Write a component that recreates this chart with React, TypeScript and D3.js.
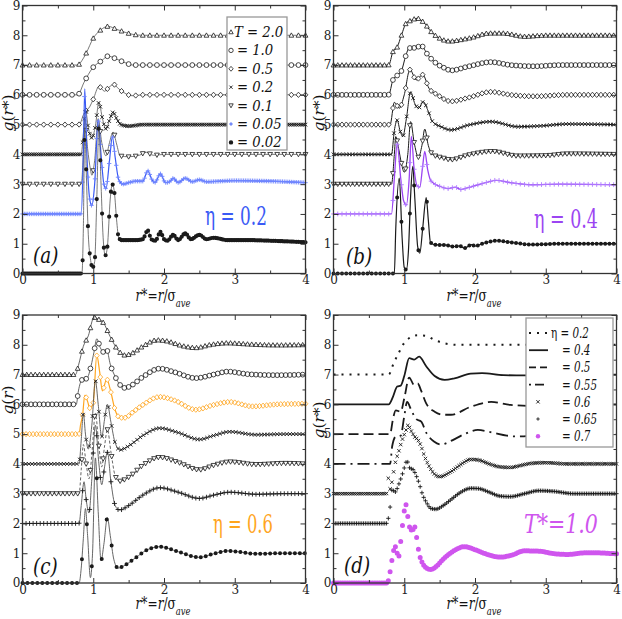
import { useRef, useEffect } from "react";
import * as d3 from "d3";

type Pt = [number, number];

const W = 622;
const H = 619;
const FONT = "DejaVu Serif";

const xTicks = [0, 1, 2, 3, 4];
const xMinor = [0.5, 1.5, 2.5, 3.5];
const yTicks = [0, 1, 2, 3, 4, 5, 6, 7, 8, 9];
const yMinor = [0.5, 1.5, 2.5, 3.5, 4.5, 5.5, 6.5, 7.5, 8.5];

// (a) eta = 0.2, curves shifted by 7,6,5,4,3,2,0
const a_T20: Pt[] = [[0, 7], [0.78, 7], [0.84, 7.15], [0.9, 7.4], [1.0, 7.9], [1.1, 8.17], [1.21, 8.3], [1.33, 8.2], [1.45, 8.1], [1.56, 8.03], [1.7, 8.0], [4, 8]];
const a_T10: Pt[] = [[0, 6], [0.78, 6], [0.87, 6.42], [0.99, 6.9], [1.12, 7.15], [1.21, 7.3], [1.33, 7.2], [1.45, 7.08], [1.56, 7.0], [4, 7]];
const a_T05: Pt[] = [[0, 5], [0.8, 5], [0.87, 5.38], [0.95, 5.6], [1.0, 5.85], [1.08, 6.28], [1.16, 6.12], [1.22, 6.25], [1.29, 6.35], [1.36, 6.2], [1.45, 6.05], [1.55, 5.97], [1.7, 6.0], [4, 6]];
const a_T02: Pt[] = [[0, 4], [0.83, 4], [0.86, 4.7], [0.89, 5.5], [0.93, 4.9], [0.98, 4.55], [1.03, 4.95], [1.08, 5.75], [1.13, 5.2], [1.18, 4.85], [1.23, 5.15], [1.28, 5.42], [1.33, 5.2], [1.39, 5.0], [1.5, 4.95], [1.7, 5.0], [4, 5]];
const a_T01: Pt[] = [[0, 3], [0.83, 3], [0.86, 4.0], [0.88, 5.2], [0.92, 4.2], [0.96, 3.5], [0.98, 3.3], [1.02, 3.8], [1.07, 5.2], [1.12, 4.4], [1.18, 3.95], [1.23, 4.4], [1.28, 4.75], [1.33, 4.35], [1.38, 3.95], [1.5, 3.92], [1.65, 3.97], [1.75, 4.07], [1.85, 3.97], [2.0, 4.0], [4, 4]];
const a_T005: Pt[] = [[0, 2], [0.83, 2], [0.86, 4.0], [0.88, 6.2], [0.91, 4.0], [0.95, 2.5], [0.98, 2.28], [1.02, 3.0], [1.07, 5.15], [1.11, 4.0], [1.15, 3.0], [1.18, 2.85], [1.23, 3.8], [1.27, 4.6], [1.31, 3.9], [1.36, 3.15], [1.42, 3.0], [1.5, 3.05], [1.6, 3.1], [1.7, 3.1], [1.77, 3.45], [1.83, 3.15], [1.87, 3.05], [1.95, 3.35], [2.02, 3.05], [2.08, 3.08], [2.13, 3.2], [2.2, 3.05], [2.3, 3.2], [2.4, 3.08], [2.5, 3.15], [2.6, 3.08], [2.8, 3.1], [3.0, 3.12], [3.5, 3.1], [4, 3.05]];
const a_T002: Pt[] = [[0, 0], [0.84, 0], [0.86, 1.5], [0.88, 4.9], [0.9, 3.5], [0.93, 1.3], [0.96, 0.5], [0.99, 0.2], [1.02, 0.4], [1.05, 2.5], [1.08, 5.0], [1.11, 3.0], [1.14, 1.2], [1.17, 0.6], [1.2, 0.9], [1.24, 2.5], [1.27, 3.0], [1.3, 2.7], [1.33, 1.8], [1.36, 1.2], [1.4, 1.12], [1.5, 1.12], [1.6, 1.12], [1.7, 1.15], [1.77, 1.45], [1.82, 1.15], [1.88, 1.1], [1.95, 1.4], [2.0, 1.15], [2.05, 1.1], [2.13, 1.3], [2.2, 1.12], [2.3, 1.35], [2.38, 1.15], [2.5, 1.3], [2.6, 1.15], [2.7, 1.2], [2.9, 1.12], [3.2, 1.12], [3.5, 1.1], [4, 1.05]];

// (b) eta = 0.4
const b_T20: Pt[] = [[0, 7], [0.78, 7], [0.84, 7.45], [0.9, 7.6], [0.96, 8.0], [1.03, 8.42], [1.1, 8.5], [1.18, 8.57], [1.28, 8.42], [1.38, 8.12], [1.5, 7.9], [1.65, 7.8], [1.8, 7.85], [1.95, 7.92], [2.2, 8.07], [2.4, 8.07], [2.7, 7.96], [3.0, 8.0], [3.5, 8.0], [4, 8]];
const b_T10: Pt[] = [[0, 6], [0.78, 6], [0.84, 6.5], [0.9, 6.65], [0.96, 6.8], [1.02, 7.3], [1.07, 7.57], [1.16, 7.58], [1.24, 7.65], [1.33, 7.35], [1.45, 7.06], [1.57, 6.9], [1.66, 6.82], [1.9, 6.95], [2.23, 7.1], [2.5, 7.0], [2.85, 6.96], [3.2, 7.0], [4, 7]];
const b_T05: Pt[] = [[0, 5], [0.8, 5], [0.86, 5.75], [0.93, 5.55], [1.0, 6.0], [1.08, 6.85], [1.17, 6.5], [1.26, 6.68], [1.35, 6.22], [1.47, 6.0], [1.66, 5.78], [1.9, 5.9], [2.23, 6.1], [2.5, 6.0], [2.85, 5.95], [3.3, 6.0], [4, 6]];
const b_T02: Pt[] = [[0, 4], [0.82, 4], [0.86, 4.8], [0.9, 5.15], [0.94, 4.8], [0.98, 4.6], [1.03, 5.2], [1.09, 6.1], [1.15, 5.7], [1.2, 5.55], [1.27, 5.77], [1.33, 5.5], [1.4, 5.1], [1.52, 4.93], [1.66, 4.82], [1.9, 4.98], [2.23, 5.1], [2.6, 4.93], [2.95, 4.96], [3.3, 5.02], [4, 5]];
const b_T01: Pt[] = [[0, 3], [0.82, 3], [0.86, 4.0], [0.88, 4.6], [0.92, 4.2], [0.96, 3.7], [1.0, 3.4], [1.05, 4.0], [1.09, 5.1], [1.14, 4.4], [1.2, 3.9], [1.25, 4.3], [1.29, 4.85], [1.34, 4.3], [1.4, 4.0], [1.55, 3.88], [1.66, 3.82], [1.9, 3.98], [2.25, 4.1], [2.6, 3.95], [3.0, 3.96], [3.3, 4.02], [4, 4]];
const b_T005: Pt[] = [[0, 2], [0.82, 2], [0.86, 3.2], [0.9, 4.35], [0.95, 3.2], [0.99, 2.45], [1.03, 2.3], [1.07, 3.2], [1.1, 4.6], [1.14, 3.5], [1.18, 2.95], [1.22, 2.9], [1.26, 3.6], [1.29, 4.1], [1.33, 3.5], [1.38, 3.1], [1.5, 2.93], [1.62, 2.85], [1.72, 2.9], [1.8, 2.82], [1.9, 2.88], [2.0, 2.95], [2.15, 3.05], [2.3, 3.13], [2.5, 3.05], [2.8, 2.98], [3.2, 3.0], [4, 2.98]];
const b_T002: Pt[] = [[0, 0], [0.86, 0], [0.88, 1.5], [0.93, 3.2], [0.97, 1.2], [1.0, 0.2], [1.03, 0.12], [1.06, 0.8], [1.09, 2.6], [1.12, 3.6], [1.15, 2.5], [1.19, 0.9], [1.22, 0.68], [1.26, 1.5], [1.31, 2.55], [1.34, 1.8], [1.37, 1.05], [1.42, 0.97], [1.6, 0.95], [1.7, 0.9], [1.78, 0.93], [1.85, 0.85], [1.95, 0.97], [2.0, 0.92], [2.1, 1.0], [2.3, 1.1], [2.5, 1.05], [2.8, 0.97], [3.2, 1.0], [4, 1.0]];

// (c) eta = 0.6
const c_T20: Pt[] = [[0, 7], [0.75, 7], [0.79, 7.3], [0.86, 7.95], [0.93, 8.3], [1.01, 8.92], [1.08, 8.85], [1.14, 8.75], [1.24, 8.27], [1.35, 7.82], [1.45, 7.65], [1.55, 7.72], [1.7, 7.95], [1.9, 8.16], [2.05, 8.12], [2.25, 7.97], [2.45, 7.9], [2.65, 8.0], [2.9, 8.06], [3.2, 8.02], [3.6, 7.99], [4, 8]];
const c_T10: Pt[] = [[0, 6], [0.76, 6], [0.79, 6.45], [0.84, 6.82], [0.91, 6.87], [0.97, 7.3], [1.01, 7.75], [1.05, 8.2], [1.1, 7.9], [1.15, 7.75], [1.19, 7.83], [1.24, 7.35], [1.31, 6.93], [1.38, 6.65], [1.45, 6.55], [1.55, 6.65], [1.7, 6.92], [1.94, 7.2], [2.15, 7.08], [2.45, 6.88], [2.7, 7.0], [2.9, 7.1], [3.2, 7.01], [3.6, 6.98], [4, 7]];
const c_T05: Pt[] = [[0, 5], [0.8, 5], [0.82, 5.3], [0.85, 5.65], [0.88, 6.3], [0.92, 6.1], [0.95, 5.87], [1.0, 6.05], [1.05, 7.65], [1.09, 7.1], [1.13, 6.45], [1.19, 6.85], [1.24, 6.5], [1.31, 5.8], [1.38, 5.55], [1.45, 5.55], [1.55, 5.72], [1.7, 5.98], [1.94, 6.25], [2.15, 6.13], [2.45, 5.82], [2.7, 5.98], [2.93, 6.08], [3.25, 5.93], [3.6, 6.0], [4, 6.02]];
const c_T02: Pt[] = [[0, 4], [0.8, 4], [0.83, 4.8], [0.86, 5.7], [0.89, 5.0], [0.93, 4.5], [0.98, 5.3], [1.03, 6.8], [1.07, 6.0], [1.12, 4.9], [1.16, 5.5], [1.2, 6.0], [1.25, 5.4], [1.31, 4.7], [1.38, 4.47], [1.5, 4.6], [1.7, 4.95], [1.94, 5.2], [2.2, 5.05], [2.5, 4.82], [2.7, 4.95], [2.93, 5.08], [3.3, 4.98], [3.7, 5.0], [4, 5.0]];
const c_T01: Pt[] = [[0, 3], [0.8, 3], [0.83, 3.8], [0.86, 4.65], [0.9, 4.0], [0.94, 3.5], [0.98, 4.3], [1.03, 5.7], [1.08, 4.6], [1.12, 3.9], [1.16, 4.6], [1.2, 5.15], [1.25, 4.4], [1.31, 3.6], [1.37, 3.42], [1.5, 3.55], [1.7, 3.95], [1.94, 4.22], [2.2, 4.05], [2.5, 3.8], [2.7, 3.95], [2.93, 4.07], [3.3, 3.98], [3.7, 4.02], [4, 4.0]];
const c_T005: Pt[] = [[0, 2], [0.8, 2], [0.83, 2.6], [0.87, 3.4], [0.9, 2.8], [0.94, 2.35], [0.98, 3.5], [1.03, 5.3], [1.08, 4.0], [1.12, 3.3], [1.16, 3.9], [1.2, 4.4], [1.25, 3.4], [1.31, 2.6], [1.37, 2.45], [1.5, 2.6], [1.7, 2.95], [1.94, 3.2], [2.2, 3.05], [2.5, 2.84], [2.7, 2.95], [2.93, 3.05], [3.3, 2.98], [3.7, 3.0], [4, 3.0]];
const c_T002: Pt[] = [[0, 0], [0.8, 0], [0.83, 0.5], [0.86, 1.5], [0.89, 2.5], [0.92, 1.6], [0.96, 0.18], [0.99, 1.0], [1.03, 4.2], [1.07, 2.4], [1.11, 0.75], [1.15, 1.3], [1.2, 2.2], [1.24, 1.6], [1.29, 0.8], [1.35, 0.5], [1.45, 0.6], [1.6, 0.85], [1.75, 1.1], [1.94, 1.22], [2.2, 1.05], [2.5, 0.86], [2.7, 0.98], [2.9, 1.08], [3.3, 0.98], [3.7, 1.0], [4, 1.0]];

// (d) T* = 1.0, eta = 0.2 ... 0.7
const d_E02: Pt[] = [[0, 7], [0.78, 7], [0.85, 7.38], [0.92, 7.72], [1.03, 8.15], [1.19, 8.32], [1.31, 8.3], [1.43, 8.16], [1.57, 8.05], [1.75, 8.0], [4, 8]];
const d_E04: Pt[] = [[0, 6], [0.78, 6], [0.84, 6.25], [0.9, 6.6], [0.95, 6.63], [1.0, 6.95], [1.07, 7.55], [1.14, 7.5], [1.21, 7.6], [1.31, 7.28], [1.43, 6.95], [1.57, 6.82], [1.71, 6.87], [1.94, 7.03], [2.1, 7.05], [2.4, 6.98], [2.7, 6.97], [3.0, 7.0], [4, 7.0]];
const d_E05: Pt[] = [[0, 5], [0.8, 5], [0.84, 5.5], [0.88, 5.8], [0.95, 5.75], [1.0, 6.2], [1.07, 6.9], [1.14, 6.65], [1.19, 6.7], [1.24, 6.45], [1.31, 6.03], [1.43, 5.75], [1.55, 5.65], [1.66, 5.65], [1.94, 5.92], [2.23, 6.08], [2.5, 5.98], [2.8, 5.95], [3.2, 6.0], [4, 6.0]];
const d_E055: Pt[] = [[0, 4], [0.8, 4], [0.83, 4.6], [0.88, 4.92], [0.95, 4.95], [1.0, 5.6], [1.04, 6.08], [1.1, 5.8], [1.17, 5.5], [1.24, 5.42], [1.31, 5.05], [1.42, 4.75], [1.52, 4.65], [1.66, 4.77], [1.85, 5.0], [2.04, 5.14], [2.25, 5.05], [2.45, 4.95], [2.6, 4.92], [2.8, 4.95], [3.0, 5.0], [4, 5.0]];
const d_E06: Pt[] = [[0, 3], [0.75, 3], [0.77, 3.55], [0.8, 3.15], [0.84, 3.6], [0.87, 4.0], [0.92, 4.4], [0.97, 4.8], [1.02, 5.1], [1.05, 5.3], [1.1, 5.1], [1.15, 4.9], [1.19, 4.82], [1.24, 4.58], [1.28, 4.3], [1.33, 4.02], [1.38, 3.8], [1.43, 3.65], [1.5, 3.57], [1.66, 3.74], [1.8, 3.98], [1.94, 4.15], [2.05, 4.13], [2.2, 4.0], [2.35, 3.9], [2.5, 3.88], [2.65, 3.95], [2.8, 4.02], [3.0, 4.04], [3.3, 4.0], [4, 4.0]];
const d_E065: Pt[] = [[0, 2], [0.75, 2], [0.8, 2.55], [0.83, 3.15], [0.87, 3.05], [0.92, 3.3], [0.98, 3.7], [1.04, 4.1], [1.08, 3.85], [1.12, 3.82], [1.17, 3.6], [1.21, 3.35], [1.26, 2.96], [1.31, 2.72], [1.38, 2.5], [1.45, 2.48], [1.55, 2.6], [1.66, 2.8], [1.8, 3.05], [1.94, 3.18], [2.05, 3.17], [2.2, 3.05], [2.35, 2.92], [2.5, 2.9], [2.7, 3.0], [2.9, 3.1], [3.1, 3.08], [3.4, 3.0], [4, 3.0]];
const d_E07: Pt[] = [[0, 0], [0.76, 0], [0.8, 0.38], [0.84, 0.97], [0.87, 1.24], [0.89, 1.08], [0.92, 0.88], [0.95, 1.39], [0.99, 2.23], [1.02, 2.65], [1.05, 2.23], [1.09, 1.78], [1.12, 1.78], [1.15, 1.89], [1.18, 1.44], [1.21, 1.0], [1.26, 0.66], [1.33, 0.48], [1.37, 0.45], [1.45, 0.55], [1.55, 0.8], [1.65, 1.0], [1.75, 1.15], [1.85, 1.22], [2.0, 1.12], [2.15, 0.98], [2.35, 0.87], [2.5, 0.92], [2.7, 1.08], [2.9, 1.07], [3.1, 0.99], [3.3, 0.96], [3.6, 1.02], [4, 0.98]];

const tempLabels = ["= 2.0", "= 1.0", "= 0.5", "= 0.2", "= 0.1", "= 0.05", "= 0.02"];
const etaLabels = ["= 0.2", "= 0.4", "= 0.5", "= 0.55", "= 0.6", "= 0.65", "= 0.7"];

const BLUE = "#3a5af5";
const PURPLE = "#9b45f2";
const ORANGE = "#ffa51e";
const MAGENTA = "#cf55ee";
const INK = "#1a1a1a";
const LINE = "#555";

interface Series {
  pts: Pt[];
  sym?: string;
  step?: number;
  color?: string;
  line?: string;
  lw?: number;
  dash?: string;
  size?: number;
}

interface Panel {
  x0: number; x1: number; yTop: number; yBot: number;
  series: Series[];
  yTitle: string; yTitleY: number; xTitleDy: number;
  letter: string; letterX: number; letterY: number;
  tag: string; tagX: number; tagY: number; tagW: number; tagColor: string;
}

const panels: Panel[] = [
  {
    x0: 22.5, x1: 305.5, yTop: 5.5, yBot: 273.5,
    series: [
      { pts: a_T20, sym: "tri", step: 0.1, line: LINE, lw: 0.8 },
      { pts: a_T10, sym: "circle", step: 0.1, line: LINE, lw: 0.8 },
      { pts: a_T05, sym: "diamond", step: 0.1, line: LINE, lw: 0.8 },
      { pts: a_T02, sym: "x", step: 0.025, line: LINE, lw: 0.8, size: 1.8 },
      { pts: a_T01, sym: "tridown", step: 0.1, line: LINE, lw: 0.8 },
      { pts: a_T005, sym: "plus", step: 0.025, color: "#6f86ff", line: BLUE, lw: 1.2, size: 2.2 },
      { pts: a_T002, sym: "dot", step: 0.025, line: LINE, lw: 0.8, size: 2.1 },
    ],
    yTitle: "g(r*)", yTitleY: 113, xTitleDy: 27,
    letter: "(a)", letterX: 33, letterY: 263,
    tag: "η = 0.2", tagX: 205, tagY: 225, tagW: 62, tagColor: BLUE,
  },
  {
    x0: 333.5, x1: 616.5, yTop: 5.5, yBot: 273.5,
    series: [
      { pts: b_T20, sym: "tri", step: 0.06, line: INK, lw: 1 },
      { pts: b_T10, sym: "circle", step: 0.06, line: INK, lw: 1 },
      { pts: b_T05, sym: "diamond", step: 0.06, line: INK, lw: 1 },
      { pts: b_T02, sym: "x", step: 0.045, line: INK, lw: 1, size: 1.8 },
      { pts: b_T01, sym: "tridown", step: 0.06, line: INK, lw: 1 },
      { pts: b_T005, sym: "plus", step: 0.06, color: "#b07cff", line: PURPLE, lw: 1.3, size: 2.4 },
      { pts: b_T002, sym: "dot", step: 0.06, line: INK, lw: 1.2, size: 2 },
    ],
    yTitle: "g(r*)", yTitleY: 113, xTitleDy: 27,
    letter: "(b)", letterX: 346, letterY: 264,
    tag: "η = 0.4", tagX: 534, tagY: 228, tagW: 64, tagColor: PURPLE,
  },
  {
    x0: 22.5, x1: 305.5, yTop: 315, yBot: 583,
    series: [
      { pts: c_T20, sym: "tri", step: 0.06, line: LINE, lw: 0.9 },
      { pts: c_T10, sym: "circle", step: 0.06, line: LINE, lw: 0.9 },
      { pts: c_T05, sym: "diamond", step: 0.05, color: ORANGE, line: ORANGE, lw: 1.2 },
      { pts: c_T02, sym: "x", step: 0.045, line: LINE, lw: 0.9, size: 1.8 },
      { pts: c_T01, sym: "tridown", step: 0.06, line: LINE, lw: 0.9, dash: "3,2" },
      { pts: c_T005, sym: "plus", step: 0.05, line: LINE, lw: 0.9, size: 2.4 },
      { pts: c_T002, sym: "dot", step: 0.07, line: LINE, lw: 0.9, size: 2 },
    ],
    yTitle: "g(r)", yTitleY: 400, xTitleDy: 26,
    letter: "(c)", letterX: 33, letterY: 574,
    tag: "η = 0.6", tagX: 213, tagY: 533, tagW: 60, tagColor: ORANGE,
  },
  {
    x0: 333.5, x1: 616.5, yTop: 315, yBot: 583,
    series: [
      { pts: d_E02, line: INK, lw: 2, dash: "2,6" },
      { pts: d_E04, line: INK, lw: 1.8 },
      { pts: d_E05, line: INK, lw: 1.8, dash: "10,5" },
      { pts: d_E055, line: INK, lw: 1.8, dash: "12,5,2,5" },
      { pts: d_E06, sym: "x", step: 0.025, size: 1.7 },
      { pts: d_E065, sym: "plus", step: 0.025, size: 2.1 },
      { pts: d_E07, sym: "dot", step: 0.025, color: MAGENTA, size: 2.5 },
    ],
    yTitle: "g(r*)", yTitleY: 420, xTitleDy: 26,
    letter: "(d)", letterX: 344, letterY: 573,
    tag: "T*=1.0", tagX: 524, tagY: 533, tagW: 74, tagColor: MAGENTA,
  },
];

function symbolPath(kind: string, x: number, y: number, s: number): string {
  switch (kind) {
    case "tri":
      return `M${x},${y - s}L${x + s},${y + s * 0.8}L${x - s},${y + s * 0.8}Z`;
    case "tridown":
      return `M${x},${y + s}L${x + s},${y - s * 0.8}L${x - s},${y - s * 0.8}Z`;
    case "diamond":
      return `M${x},${y - s * 1.1}L${x + s},${y}L${x},${y + s * 1.1}L${x - s},${y}Z`;
    case "x":
      return `M${x - s},${y - s}L${x + s},${y + s}M${x - s},${y + s}L${x + s},${y - s}`;
    case "plus":
      return `M${x - s},${y}L${x + s},${y}M${x},${y - s}L${x},${y + s}`;
    default:
      return `M${x + s},${y}A${s},${s} 0 1,1 ${x - s},${y}A${s},${s} 0 1,1 ${x + s},${y}Z`;
  }
}

// markers along the drawn curve, one per step in r
function pointsAtX(node: SVGPathElement, xs: number[]): Pt[] {
  const total = node.getTotalLength();
  const out: Pt[] = [];
  let i = 0;
  let prev = node.getPointAtLength(0);
  while (i < xs.length && xs[i] <= prev.x + 1e-6) {
    out.push([prev.x, prev.y]);
    i++;
  }
  for (let l = 1; i < xs.length; l += 1) {
    const p = node.getPointAtLength(Math.min(l, total));
    while (i < xs.length && p.x >= xs[i] - 1e-6) {
      const t = p.x === prev.x ? 1 : (xs[i] - prev.x) / (p.x - prev.x);
      out.push([xs[i], prev.y + t * (p.y - prev.y)]);
      i++;
    }
    prev = p;
    if (l >= total) break;
  }
  return out;
}

function drawMarkers(g: any, sym: string, pts: Pt[], color: string, s: number) {
  const d = pts.map(([px, py]) => symbolPath(sym, px, py, s)).join("");
  const p = g.append("path").attr("d", d);
  if (sym === "dot") p.attr("fill", color).attr("stroke", "none");
  else if (sym === "x" || sym === "plus") p.attr("fill", "none").attr("stroke", color).attr("stroke-width", 0.9);
  else p.attr("fill", "#fff").attr("stroke", color).attr("stroke-width", 0.8);
}

// text narrowed horizontally (the reference uses a condensed Times look)
function addText(g: any, x: number, y: number, size: number, squeeze = 0.8, rotate = 0) {
  return g.append("text")
    .attr("x", 0).attr("y", 0)
    .attr("transform", `translate(${x},${y})${rotate ? ` rotate(${rotate})` : ""} scale(${squeeze},1)`)
    .attr("font-family", FONT)
    .attr("font-size", size)
    .attr("fill", "#111");
}

function drawPanel(svg: any, p: Panel) {
  const x = d3.scaleLinear().domain([0, 4]).range([p.x0, p.x1]);
  const y = d3.scaleLinear().domain([0, 9]).range([p.yBot, p.yTop]);
  const g = svg.append("g");

  const line = d3.line<Pt>()
    .x(d => x(d[0]))
    .y(d => y(d[1]))
    .curve(d3.curveMonotoneX);

  p.series.forEach(s => {
    const path = g.append("path")
      .datum(s.pts)
      .attr("d", line)
      .attr("fill", "none")
      .attr("stroke", s.line ?? "none")
      .attr("stroke-width", s.lw ?? 1)
      .attr("stroke-dasharray", s.dash ?? null);
    if (s.sym) {
      const xs = d3.range(0, 4 + 1e-6, s.step ?? 0.05).map(v => x(v));
      const pts = pointsAtX(path.node(), xs);
      drawMarkers(g, s.sym, pts, s.color ?? INK, s.size ?? 2.4);
    }
  });

  // frame and inward ticks on all four sides
  g.append("rect")
    .attr("x", p.x0).attr("y", p.yTop)
    .attr("width", p.x1 - p.x0).attr("height", p.yBot - p.yTop)
    .attr("fill", "none").attr("stroke", "#333").attr("stroke-width", 1.3);

  const style = (sel: any) => {
    sel.select(".domain").remove();
    sel.selectAll(".tick line").attr("stroke", "#333");
    sel.attr("font-family", FONT).attr("font-size", 12);
    sel.selectAll(".tick text").attr("fill", "#222");
  };

  g.append("g").attr("transform", `translate(0,${p.yBot})`)
    .call(d3.axisBottom(x).tickValues(xTicks).tickSize(-5).tickPadding(2).tickFormat(d3.format("d")))
    .call(style);
  g.append("g").attr("transform", `translate(0,${p.yBot})`)
    .call(d3.axisBottom(x).tickValues(xMinor).tickSize(-3).tickFormat(() => ""))
    .call(style);
  g.append("g").attr("transform", `translate(0,${p.yTop})`)
    .call(d3.axisTop(x).tickValues(xTicks).tickSize(-5).tickFormat(() => ""))
    .call(style);
  g.append("g").attr("transform", `translate(0,${p.yTop})`)
    .call(d3.axisTop(x).tickValues(xMinor).tickSize(-3).tickFormat(() => ""))
    .call(style);
  g.append("g").attr("transform", `translate(${p.x0},0)`)
    .call(d3.axisLeft(y).tickValues(yTicks).tickSize(-5).tickPadding(2).tickFormat(d3.format("d")))
    .call(style);
  g.append("g").attr("transform", `translate(${p.x0},0)`)
    .call(d3.axisLeft(y).tickValues(yMinor).tickSize(-3).tickFormat(() => ""))
    .call(style);
  g.append("g").attr("transform", `translate(${p.x1},0)`)
    .call(d3.axisRight(y).tickValues(yTicks).tickSize(-5).tickFormat(() => ""))
    .call(style);
  g.append("g").attr("transform", `translate(${p.x1},0)`)
    .call(d3.axisRight(y).tickValues(yMinor).tickSize(-3).tickFormat(() => ""))
    .call(style);

  // x title  r*=r/σ_ave
  const xt = addText(g, (p.x0 + p.x1) / 2 - 1, p.yBot + p.xTitleDy, 16, 0.76).attr("text-anchor", "middle");
  xt.append("tspan").attr("font-style", "italic").text("r");
  xt.append("tspan").text("*=");
  xt.append("tspan").attr("font-style", "italic").text("r");
  xt.append("tspan").text("/σ");
  xt.append("tspan").attr("font-style", "italic").attr("font-size", 11).attr("dy", 6).text("ave");

  // y title
  const yt = addText(g, p.x0 - 9.5, p.yTitleY, 14, 1.1, -90).attr("text-anchor", "middle");
  yt.append("tspan").attr("font-style", "italic").text("g");
  yt.append("tspan").text("(");
  yt.append("tspan").attr("font-style", "italic").text(p.yTitle.includes("*") ? "r*" : "r");
  yt.append("tspan").text(")");

  addText(g, p.letterX, p.letterY, 23, 0.8).attr("font-style", "italic").text(p.letter);

  const tag = addText(g, p.tagX, p.tagY, 26, 1)
    .attr("fill", p.tagColor)
    .text(p.tag);
  if (!p.tag.startsWith("η")) tag.attr("font-style", "italic");
  const natural = tag.node().getComputedTextLength();
  tag.attr("transform", `translate(${p.tagX},${p.tagY}) scale(${p.tagW / natural},1)`);

  return { x, y, g };
}

export default function App() {
  const svgRef = useRef<SVGSVGElement>(null);

  useEffect(() => {
    if (!svgRef.current) return;
    const svg = d3.select(svgRef.current);
    svg.selectAll("*").remove();
    svg.append("rect").attr("width", W).attr("height", H).attr("fill", "#fff");

    const drawn = panels.map(p => drawPanel(svg, p));

    // legend (a)
    const ga = drawn[0].g;
    ga.append("rect").attr("x", 227).attr("y", 17).attr("width", 60).attr("height", 133)
      .attr("fill", "#fff").attr("stroke", "#999").attr("stroke-width", 1.3);
    const symsA = ["tri", "circle", "diamond", "x", "tridown", "plus", "dot"];
    tempLabels.forEach((lab, i) => {
      const cy = 32 + i * 18.4;
      const sym = symsA[i];
      const col = sym === "plus" ? BLUE : INK;
      drawMarkers(ga, sym, [[231, cy]], col, sym === "x" ? 1.6 : sym === "plus" ? 1.8 : 2.2);
      addText(ga, i === 0 ? 234 : 237, cy + 5, 15, 0.88)
        .attr("font-style", "italic")
        .text(i === 0 ? `T ${lab}` : lab);
    });

    // legend (d)
    const gd = drawn[3].g;
    gd.append("rect").attr("x", 526).attr("y", 318).attr("width", 87).attr("height", 129)
      .attr("fill", "#fff").attr("stroke", "#999").attr("stroke-width", 1.3);
    const dashes = ["2,6", null, "7,4", "2,4,9,4"];
    etaLabels.forEach((lab, i) => {
      const cy = 333 + i * 17.2;
      if (i < 4) {
        gd.append("line").attr("x1", 529).attr("x2", 548).attr("y1", cy).attr("y2", cy)
          .attr("stroke", INK).attr("stroke-width", i === 0 ? 2 : 1.8)
          .attr("stroke-dasharray", dashes[i]);
      } else {
        const sym = ["x", "plus", "dot"][i - 4];
        drawMarkers(gd, sym, [[538, cy]], i === 6 ? MAGENTA : INK, sym === "dot" ? 2.2 : 1.7);
      }
      const t = addText(gd, i === 0 ? 551 : 562, cy + 5, 14, 0.74);
      if (i === 0) {
        t.append("tspan").text("η ");
        t.append("tspan").attr("font-style", "italic").text(lab);
      } else {
        t.attr("font-style", "italic").text(lab);
      }
    });
  }, []);

  return (
    <svg
      ref={svgRef}
      width={W}
      height={H}
      viewBox={`0 0 ${W} ${H}`}
      style={{ position: "absolute", left: 0, top: 0 }}
    />
  );
}
